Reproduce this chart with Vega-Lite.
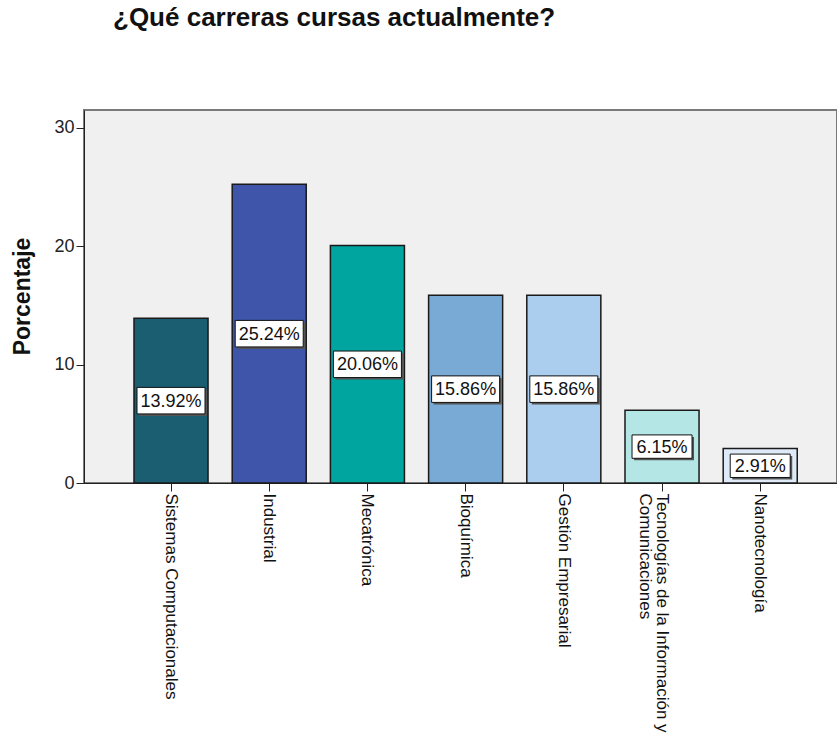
{
  "$schema": "https://vega.github.io/schema/vega-lite/v6.json",
  "width": 753,
  "height": 373,
  "autosize": "none",
  "padding": {"left": 84, "top": 110, "right": 0, "bottom": 255},
  "background": "white",
  "config": {
    "font": "Liberation Sans",
    "view": {"fill": "#f0f0f0", "stroke": "#7a7a7a", "strokeWidth": 2}
  },
  "title": {
    "text": "¿Qué carreras cursas actualmente?",
    "anchor": "start",
    "frame": "group",
    "dx": 29,
    "offset": 58,
    "baseline": "alphabetic",
    "fontSize": 26,
    "fontWeight": "bold",
    "color": "#111"
  },
  "data": {
    "values": [
      {"carrera": "Sistemas Computacionales", "pct": 13.92, "label": "13.92%"},
      {"carrera": "Industrial", "pct": 25.24, "label": "25.24%"},
      {"carrera": "Mecatrónica", "pct": 20.06, "label": "20.06%"},
      {"carrera": "Bioquímica", "pct": 15.86, "label": "15.86%"},
      {"carrera": "Gestión Empresarial", "pct": 15.86, "label": "15.86%"},
      {"carrera": "Tecnologías de la Información y Comunicaciones", "pct": 6.15, "label": "6.15%"},
      {"carrera": "Nanotecnología", "pct": 2.91, "label": "2.91%"}
    ]
  },
  "encoding": {
    "x": {
      "field": "carrera",
      "type": "nominal",
      "sort": null,
      "scale": {"paddingInner": 0.246, "paddingOuter": 0.457, "align": 0.557},
      "axis": {
        "title": null,
        "labelAngle": 90,
        "labelAlign": "left",
        "labelBaseline": "middle",
        "labelFontSize": 17,
        "labelColor": "#111",
        "labelPadding": 2,
        "labelLineHeight": 17,
        "tickSize": 8,
        "tickColor": "#222",
        "domainColor": "#222",
        "labelLimit": 400,
        "labelExpr": "datum.value == 'Tecnologías de la Información y Comunicaciones' ? ['Tecnologías de la Información y', 'Comunicaciones'] : datum.label"
      }
    }
  },
  "layer": [
    {
      "mark": {"type": "bar", "stroke": "#1a1a1a", "strokeWidth": 1.5},
      "encoding": {
        "y": {
          "field": "pct",
          "type": "quantitative",
          "scale": {"domain": [0, 31.52], "nice": false},
          "axis": {
            "title": "Porcentaje",
            "values": [0, 10, 20, 30],
            "grid": false,
            "tickSize": 8,
            "tickColor": "#222",
            "domainColor": "#222",
            "labelFontSize": 18,
            "labelColor": "#222",
            "labelPadding": 2,
            "titleFontSize": 23,
            "titleFontWeight": "bold",
            "titleColor": "#111",
            "titleAngle": -90,
            "titleBaseline": "alphabetic",
            "titleAlign": "center",
            "titleX": -55,
            "titleY": 186
          }
        },
        "color": {
          "field": "carrera",
          "type": "nominal",
          "sort": null,
          "legend": null,
          "scale": {
            "domain": ["Sistemas Computacionales", "Industrial", "Mecatrónica", "Bioquímica", "Gestión Empresarial", "Tecnologías de la Información y Comunicaciones", "Nanotecnología"],
            "range": ["#1b5e72", "#3e55aa", "#00a5a0", "#79a9d5", "#abcdee", "#b3e6e5", "#dfeaf8"]
          }
        }
      }
    },
    {
      "mark": {"type": "point", "shape": "M-1,-0.39H1V0.39H-1Z", "filled": true, "fill": "#555", "opacity": 1, "xOffset": 2, "yOffset": 2},
      "encoding": {
        "y": {"field": "pct", "type": "quantitative", "scale": {"domain": [0, 63.04], "nice": false}, "axis": null},
        "size": {"condition": {"test": "datum.pct < 10", "value": 3600}, "value": 4624}
      }
    },
    {
      "mark": {"type": "point", "shape": "M-1,-0.39H1V0.39H-1Z", "filled": true, "fill": "white", "stroke": "#111", "strokeWidth": 1, "opacity": 1},
      "encoding": {
        "y": {"field": "pct", "type": "quantitative", "scale": {"domain": [0, 63.04], "nice": false}, "axis": null},
        "size": {"condition": {"test": "datum.pct < 10", "value": 3600}, "value": 4624}
      }
    },
    {
      "mark": {"type": "text", "fontSize": 18, "color": "#111", "baseline": "middle", "align": "center", "dy": 1},
      "encoding": {
        "y": {"field": "pct", "type": "quantitative", "scale": {"domain": [0, 63.04], "nice": false}, "axis": null},
        "text": {"field": "label"}
      }
    }
  ],
  "resolve": {"scale": {"y": "independent"}, "axis": {"y": "independent"}}
}
